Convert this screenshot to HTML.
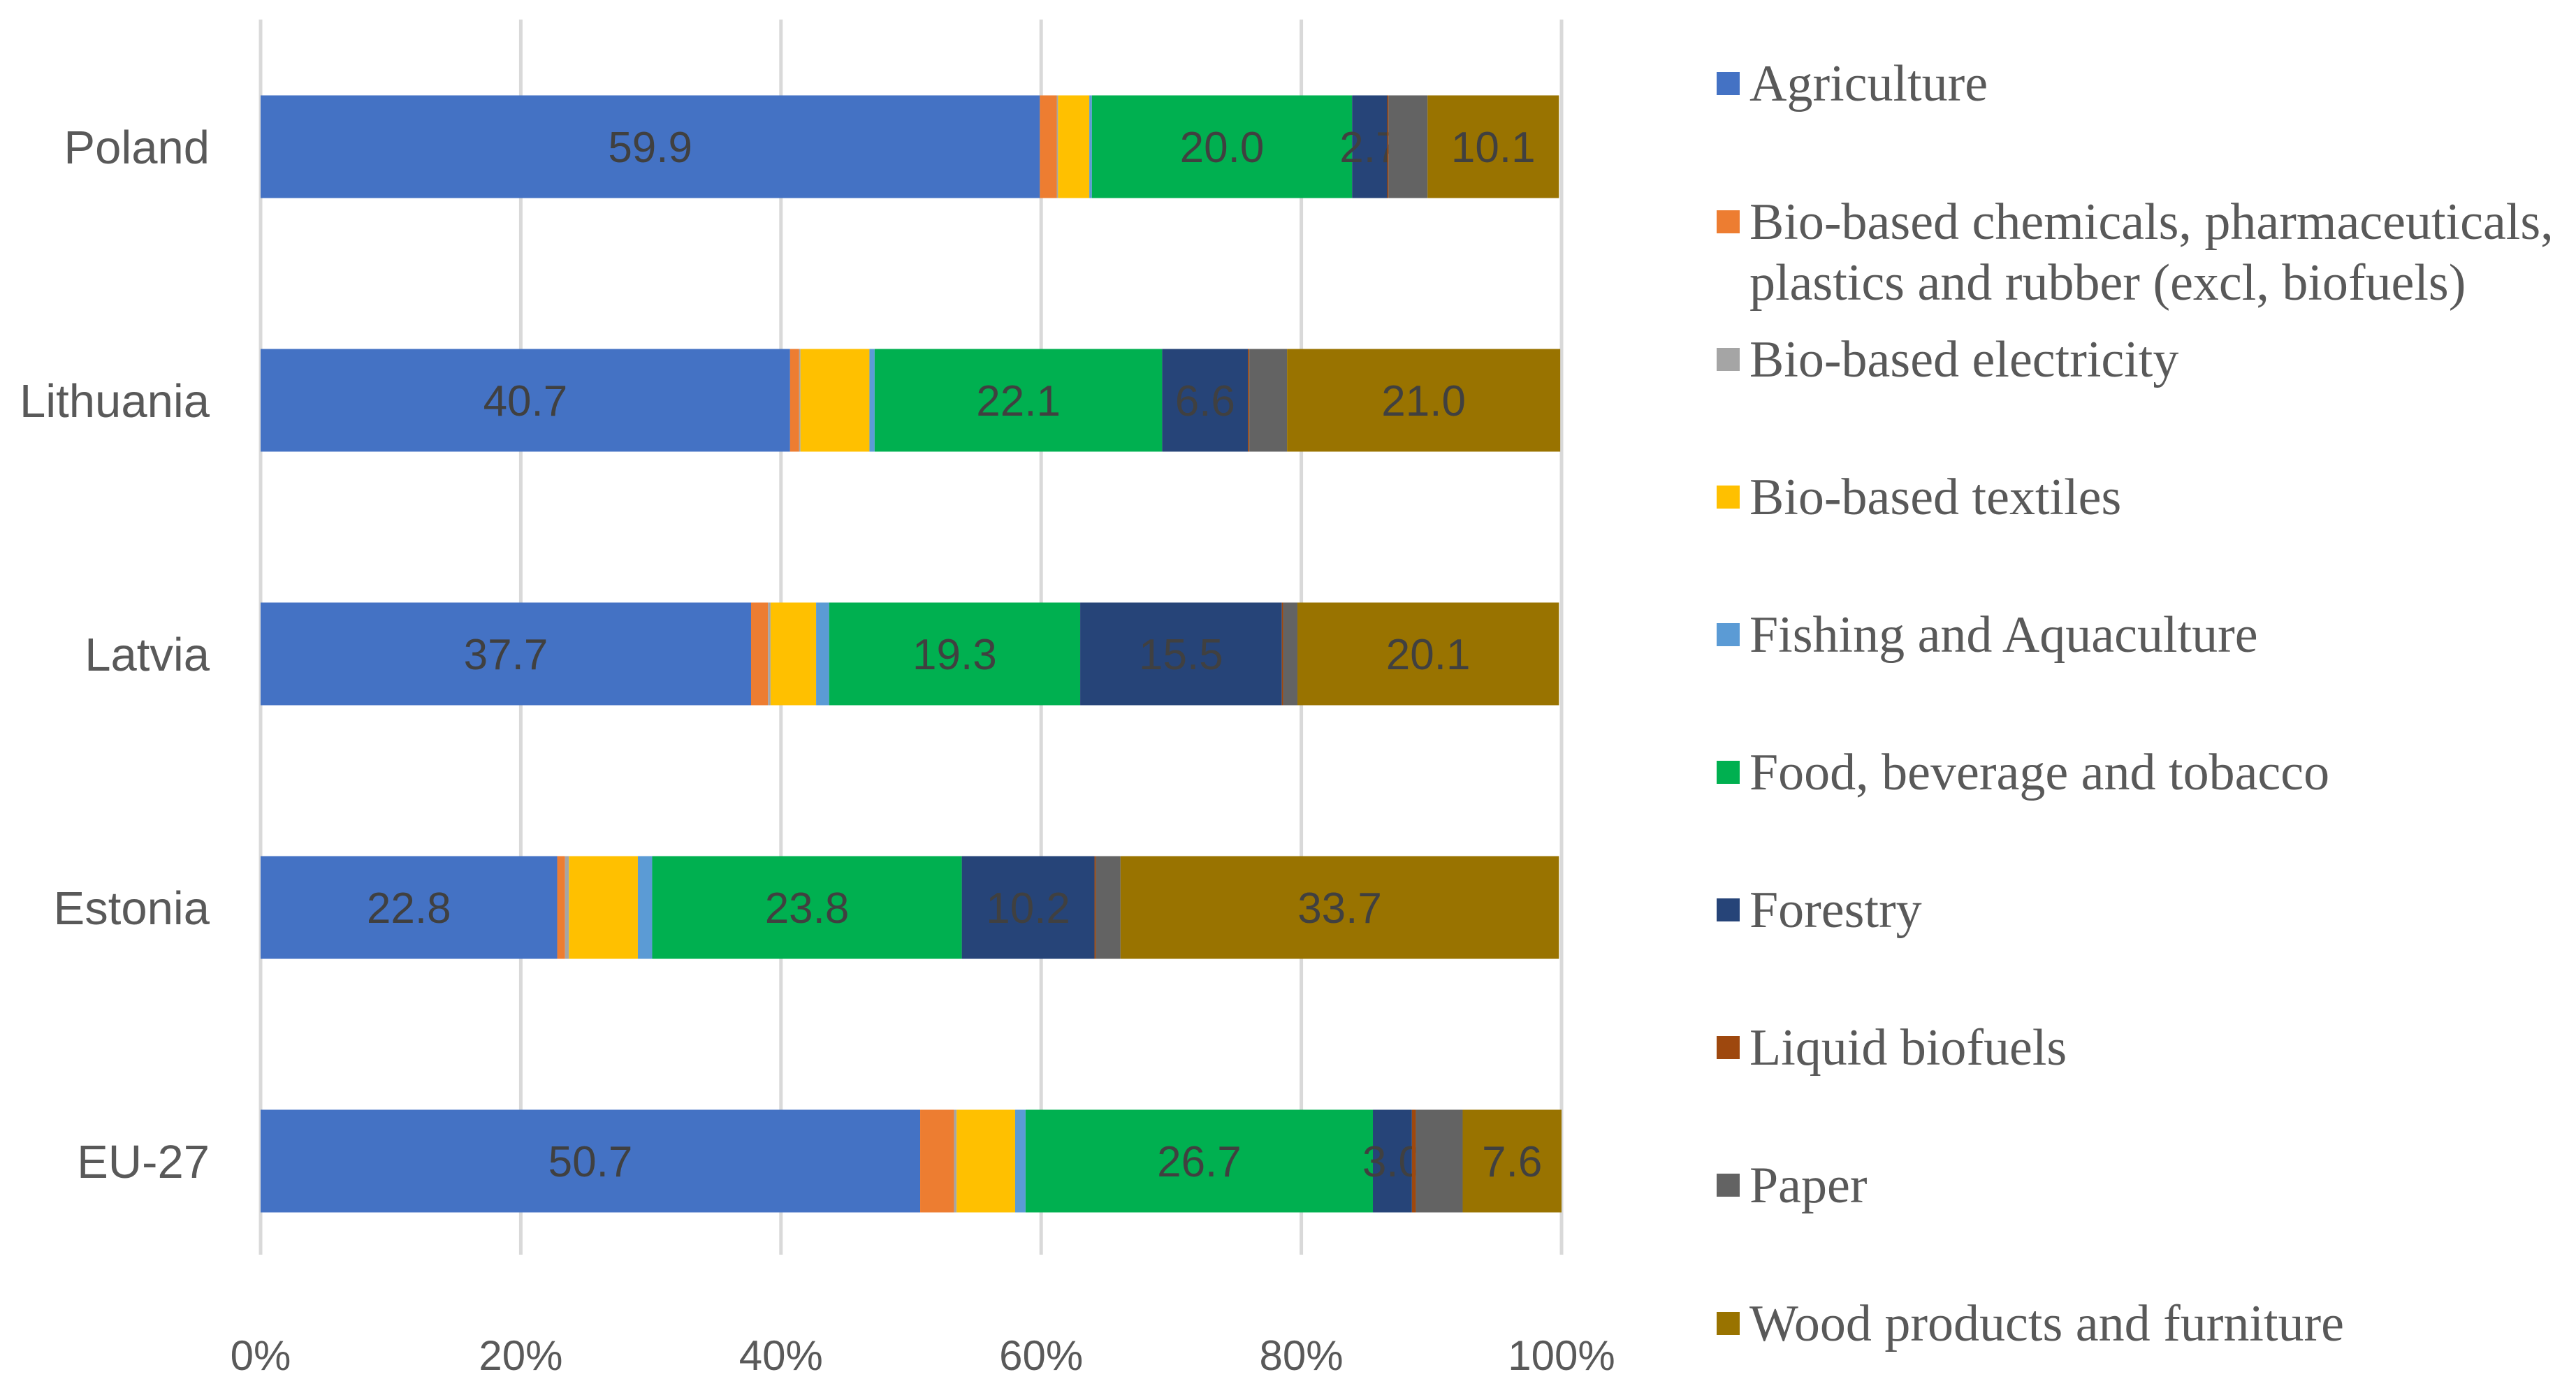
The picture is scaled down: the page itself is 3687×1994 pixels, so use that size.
<!DOCTYPE html>
<html><head><meta charset="utf-8"><style>
html,body{margin:0;padding:0;background:#fff;}
svg{display:block;}
</style></head><body>
<svg id="chart" width="3687" height="1994" viewBox="0 0 3687 1994" xmlns="http://www.w3.org/2000/svg">
<g id="grid"></g>
<g id="bars"></g>
<g id="ylabels"></g>
<g id="xlabels"></g>
<g id="legend"></g>
</svg>
<script>
const categories = ["Poland","Lithuania","Latvia","Estonia","EU-27"];
const seriesNames = ["Agriculture","Bio-based chemicals, pharmaceuticals,|plastics and rubber (excl, biofuels)","Bio-based electricity","Bio-based textiles","Fishing and Aquaculture","Food, beverage and tobacco","Forestry","Liquid biofuels","Paper","Wood products and furniture"];
const seriesColors = ["#4472C4","#ED7D31","#A5A5A5","#FFC000","#5B9BD5","#00B050","#264478","#9E480E","#636363","#997300"];
const agriculture = [59.9,40.7,37.7,22.8,50.7];
const chemicals = [1.3,0.7,1.3,0.6,2.6];
const electricity = [0.1,0.1,0.2,0.3,0.2];
const textiles = [2.4,5.3,3.5,5.3,4.5];
const fishing = [0.2,0.4,1.0,1.1,0.8];
const food = [20.0,22.1,19.3,23.8,26.7];
const forestry = [2.7,6.6,15.5,10.2,3.0];
const biofuels = [0.1,0.1,0.1,0.1,0.3];
const paper = [3.0,2.9,1.1,1.9,3.6];
const wood = [10.1,21.0,20.1,33.7,7.6];
const series = [agriculture,chemicals,electricity,textiles,fishing,food,forestry,biofuels,paper,wood];
const labeled = [true,false,false,false,false,true,true,false,false,true];
const xTicks = [0,20,40,60,80,100];
const xTickLabels = ["0%","20%","40%","60%","80%","100%"];

const NS="http://www.w3.org/2000/svg";
const X0=373,X1=2235,TOP=28,BOT=1796,Y0=210,STEP=363,BH=147;
const xs=v=>X0+(X1-X0)*v/100;
const ys=i=>Y0+STEP*i;
function mk(tag,attrs,parent){const e=document.createElementNS(NS,tag);for(const k in attrs)e.setAttribute(k,attrs[k]);parent.appendChild(e);return e;}
const grid=document.getElementById('grid'),bars=document.getElementById('bars'),yl=document.getElementById('ylabels'),xl=document.getElementById('xlabels'),lg=document.getElementById('legend');
xTicks.forEach((t,i)=>{
  const l=mk('line',{x1:xs(t),x2:xs(t),y1:TOP,y2:BOT,stroke:'#d9d9d9','stroke-width':5},grid);
  
  
  const tx=mk('text',{x:xs(t),y:1961,'text-anchor':'middle','font-family':'Liberation Sans, sans-serif','font-size':60,fill:'#595959'},xl);
  tx.textContent=xTickLabels[i];
  
  
});
categories.forEach((c,i)=>{
  const cy=ys(i);
  const t=mk('text',{x:300,y:cy+24,'text-anchor':'end','font-family':'Liberation Sans, sans-serif','font-size':67,fill:'#595959'},yl);
  t.textContent=c;
  
  
  let acc=0;
  series.forEach((s,j)=>{
    const v=s[i];
    const r=mk('rect',{x:xs(acc),y:cy-BH/2,width:xs(acc+v)-xs(acc),height:BH,fill:seriesColors[j]},bars);
    
    
    if(labeled[j]){
      const lt=mk('text',{x:(xs(acc)+xs(acc+v))/2,y:cy+22,'text-anchor':'middle','font-family':'Liberation Sans, sans-serif','font-size':62,fill:'#404040'},bars);
      lt.textContent=v.toFixed(1);
      
      
    }
    acc+=v;
  });
});
const legY=[120,318,515,712,909,1106,1303,1500,1697,1895];
seriesNames.forEach((n,j)=>{
  const g=mk('g',{},lg);
  
  
  mk('rect',{x:2457,y:legY[j]-17,width:33,height:33,fill:seriesColors[j]},g);
  n.split('|').forEach((line,k)=>{
    const t=mk('text',{x:2504,y:legY[j]+24+k*87,'font-family':'Liberation Serif, serif','font-size':74,fill:'#595959'},g);
    t.textContent=line;
  });
});
</script>
</body></html>
